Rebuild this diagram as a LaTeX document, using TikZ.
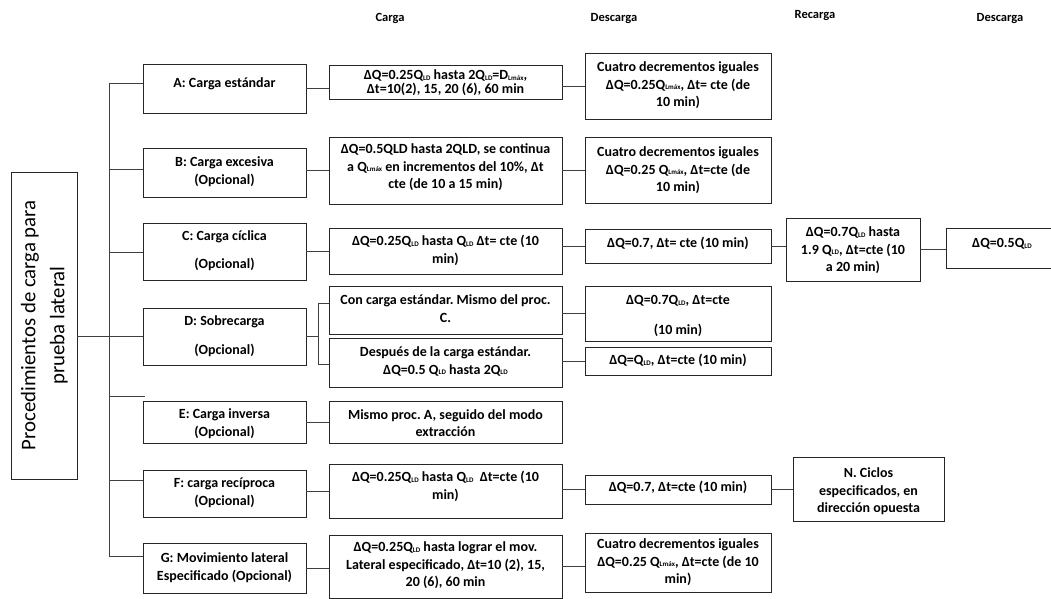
\documentclass[tikz,border=0pt]{standalone}
\usepackage{fontspec}
\setmainfont{Carlito}
\frenchspacing
\newcommand\lsub[1]{\raisebox{-0.6pt}{\fontsize{7}{7}\selectfont #1}}
\newcommand\bxt[4]{\parbox[c][#2][t]{#1}{\centering\vspace*{\dimexpr#3-7.6pt\relax}\strut #4\par}}
\begin{document}
\begin{tikzpicture}[x=1pt,y=-1pt,
  box/.style={draw=black!85, line width=0.9pt, inner sep=0pt, outer sep=0pt},
  conn/.style={draw=black!75, line width=0.9pt},
  hdr/.style={font=\fontsize{12.5}{14}\selectfont\bfseries},
  every node/.style={font=\fontsize{14}{17.5}\selectfont\bfseries}]
\useasboundingbox (0,0) rectangle (1051,599);
% headers
\node[hdr] (h1) at (390,18) {Carga};
\node[hdr] (h2) at (614,19) {Descarga};
\node[hdr] (h3) at (815,16) {Recarga};
\node[hdr] (h4) at (1000,19) {Descarga};
% left box
\node[box, minimum width=66pt, minimum height=307pt] (L) at (44,325.5)
  {\rotatebox{90}{\fontsize{20.8}{29}\selectfont\mdseries\begin{tabular}{@{}c@{}}Procedimientos de carga para\\prueba lateral\end{tabular}}};
% type boxes
\node[box] (A) at (224.5,88.5) {\bxt{163pt}{49pt}{19pt}{A: Carga estándar}};
\node[box] (B) at (224.5,172.5) {\bxt{163pt}{49pt}{14pt}{B: Carga excesiva\\(Opcional)}};
\node[box] (C) at (224.5,251.5) {\bxt{163pt}{57pt}{13pt}{C: Carga cíclica\\[10pt](Opcional)}};
\node[box] (D) at (224.5,336.5) {\bxt{163pt}{57pt}{13pt}{D: Sobrecarga\\[11pt](Opcional)}};
\node[box] (E) at (224.5,422) {\bxt{163pt}{42pt}{13pt}{E: Carga inversa\\(Opcional)}};
\node[box] (F) at (224.5,493.5) {\bxt{163pt}{47pt}{13pt}{F: carga recíproca\\(Opcional)}};
\node[box] (G) at (224.5,568) {\bxt{163pt}{50pt}{15pt}{G: Movimiento lateral\\Especificado (Opcional)}};
% carga
\node[box] (CA) at (445.5,82) {\bxt{233pt}{34pt}{10pt}{ΔQ=0.25Q\lsub{LD} hasta 2Q\lsub{LD}=D\lsub{Lmáx},\\[-3.5pt]Δt=10(2), 15, 20 (6), 60 min}};
\node[box] (CB) at (445.5,170.5) {\bxt{233pt}{67pt}{12pt}{ΔQ=0.5QLD hasta 2QLD, se continua\\a Q\lsub{Lmáx} en incrementos del 10\%, Δt\\cte (de 10 a 15 min)}};
\node[box] (CC) at (445.5,251) {\bxt{233pt}{46pt}{13pt}{ΔQ=0.25Q\lsub{LD} hasta Q\lsub{LD} Δt= cte (10\\min)}};
\node[box] (CD1) at (445.5,310) {\bxt{233pt}{48pt}{14pt}{Con carga estándar. Mismo del proc.\\C.}};
\node[box] (CD2) at (445.5,362.5) {\bxt{233pt}{49pt}{14pt}{Después de la carga estándar.\\ΔQ=0.5 Q\lsub{LD} hasta 2Q\lsub{LD}}};
\node[box] (CE) at (445.5,422) {\bxt{233pt}{42pt}{13.5pt}{Mismo proc. A, seguido del modo\\extracción}};
\node[box] (CF) at (445.5,491) {\bxt{233pt}{54pt}{13pt}{ΔQ=0.25Q\lsub{LD} hasta Q\lsub{LD}\ \ Δt=cte (10\\min)}};
\node[box] (CG) at (445.5,566.5) {\bxt{233pt}{63pt}{12pt}{ΔQ=0.25Q\lsub{LD} hasta lograr el mov.\\Lateral especificado, Δt=10 (2), 15,\\20 (6), 60 min}};
% descarga
\node[box] (DA) at (678,86) {\bxt{186pt}{66pt}{14pt}{Cuatro decrementos iguales\\ΔQ=0.25Q\lsub{Lmáx}, Δt= cte (de\\10 min)}};
\node[box] (DB) at (678,170) {\bxt{186pt}{66pt}{15pt}{Cuatro decrementos iguales\\ΔQ=0.25 Q\lsub{Lmáx}, Δt=cte (de\\10 min)}};
\node[box] (DC) at (678,246) {\bxt{186pt}{34pt}{14pt}{ΔQ=0.7, Δt= cte (10 min)}};
\node[box] (DD1) at (678,313.5) {\bxt{186pt}{55pt}{14pt}{ΔQ=0.7Q\lsub{LD}, Δt=cte\\[12pt](10 min)}};
\node[box] (DD2) at (678,361) {\bxt{186pt}{28pt}{13pt}{ΔQ=Q\lsub{LD}, Δt=cte (10 min)}};
\node[box] (DF) at (678,489.5) {\bxt{186pt}{29pt}{12pt}{ΔQ=0.7, Δt=cte (10 min)}};
\node[box] (DG) at (678,562.5) {\bxt{186pt}{59pt}{11pt}{Cuatro decrementos iguales\\ΔQ=0.25 Q\lsub{Lmáx}, Δt=cte (de 10\\min)}};
% recarga / further
\node[box] (RC) at (853,249.5) {\bxt{134pt}{63pt}{14pt}{ΔQ=0.7Q\lsub{LD} hasta\\1.9 Q\lsub{LD}, Δt=cte (10\\a 20 min)}};
\node[box] (FD) at (1002,248) {\bxt{112pt}{40pt}{15pt}{ΔQ=0.5Q\lsub{LD}}};
\node[box] (NC) at (868.5,489) {\bxt{151pt}{64pt}{16pt}{N. Ciclos\\especificados, en\\dirección opuesta}};
% trunk
\coordinate (tA) at (109,83);
\coordinate (tB) at (109,169);
\coordinate (tC) at (109,252);
\coordinate (tS) at (109,396);
\coordinate (sE) at (145,396);
\coordinate (tF) at (109,480);
\coordinate (tG) at (109,556);
\draw[conn] (tA) -- (tG);
\draw[conn] (tA) -- (tA -| A.west);
\draw[conn] (tB) -- (tB -| B.west);
\draw[conn] (tC) -- (tC -| C.west);
\draw[conn] (D.west -| L.east) -- (D.west);
\draw[conn] (tS) -- (sE);
\draw[conn] (tF) -- (tF -| F.west);
\draw[conn] (tG) -- (tG -| G.west);
% type -> carga
\draw[conn] (A.east) -- (A.east -| CA.west);
\draw[conn] (CB.west -| B.east) -- (CB.west);
\draw[conn] (C.east) -- (C.east -| CC.west);
\coordinate (b1) at (318,303);
\coordinate (b2) at (318,364);
\draw[conn] (D.east) -- (D.east -| b1);
\draw[conn] (b1 -| CD1.west) -- (b1) -- (b2) -- (b2 -| CD2.west);
\draw[conn] (E.east) -- (E.east -| CE.west);
\draw[conn] (CF.west -| F.east) -- (CF.west);
\draw[conn] (G.east) -- (G.east -| CG.west);
% carga -> descarga
\draw[conn] (DA.west -| CA.east) -- (DA.west);
\draw[conn] (CB.east) -- (CB.east -| DB.west);
\draw[conn] (DC.west -| CC.east) -- (DC.west);
\draw[conn] (DD1.west -| CD1.east) -- (DD1.west);
\draw[conn] (DD2.west -| CD2.east) -- (DD2.west);
\draw[conn] (DF.west -| CF.east) -- (DF.west);
\draw[conn] (CG.east) -- (CG.east -| DG.west);
% further
\draw[conn] (DC.east) -- (DC.east -| RC.west);
\draw[conn] (RC.east) -- (RC.east -| FD.west);
\draw[conn] (DF.east) -- (DF.east -| NC.west);
\end{tikzpicture}
\end{document}
